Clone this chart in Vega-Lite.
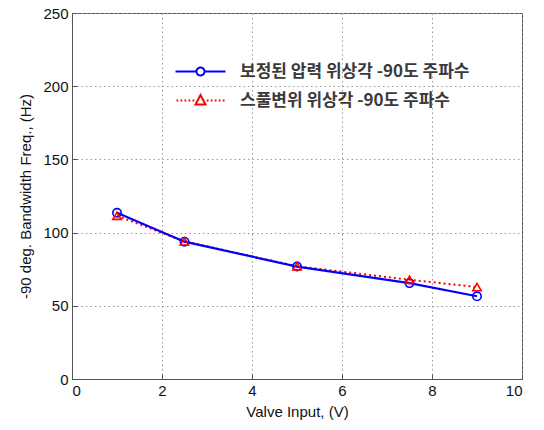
{
  "$schema": "https://vega.github.io/schema/vega-lite/v6.json",
  "width": 450,
  "height": 366,
  "autosize": {"type": "none"},
  "padding": {"left": 72, "top": 13, "right": 22, "bottom": 51},
  "background": "white",
  "config": {
    "view": {"stroke": "#555", "strokeWidth": 1},
    "axis": {
      "labelFont": "Liberation Sans",
      "titleFont": "Liberation Sans",
      "labelFontSize": 15,
      "titleFontSize": 15,
      "labelColor": "#111",
      "titleColor": "#111",
      "titleFontWeight": "normal",
      "domainColor": "#555",
      "tickColor": "#555",
      "tickSize": -5,
      "labelPadding": 9,
      "gridColor": "#999",
      "gridDash": [1.5, 3],
      "gridWidth": 1
    }
  },
  "data": {
    "values": [
      {"series": "보정된 압력 위상각 -90도 주파수", "x": 1, "y": 113.5},
      {"series": "보정된 압력 위상각 -90도 주파수", "x": 2.5, "y": 93.8},
      {"series": "보정된 압력 위상각 -90도 주파수", "x": 5, "y": 76.8},
      {"series": "보정된 압력 위상각 -90도 주파수", "x": 7.5, "y": 65.5},
      {"series": "보정된 압력 위상각 -90도 주파수", "x": 9, "y": 56.5},
      {"series": "스풀변위 위상각 -90도 주파수", "x": 1, "y": 111.5},
      {"series": "스풀변위 위상각 -90도 주파수", "x": 2.5, "y": 94},
      {"series": "스풀변위 위상각 -90도 주파수", "x": 5, "y": 77},
      {"series": "스풀변위 위상각 -90도 주파수", "x": 7.5, "y": 67.8},
      {"series": "스풀변위 위상각 -90도 주파수", "x": 9, "y": 62.8}
    ]
  },
  "encoding": {
    "x": {
      "field": "x", "type": "quantitative",
      "scale": {"domain": [0, 10], "nice": false},
      "axis": {"title": "Valve Input, (V)", "values": [0, 2, 4, 6, 8, 10], "titlePadding": 6}
    },
    "y": {
      "field": "y", "type": "quantitative",
      "scale": {"domain": [0, 250], "nice": false},
      "axis": {"title": "-90 deg. Bandwidth Freq., (Hz)", "values": [0, 50, 100, 150, 200, 250], "titlePadding": 9}
    },
    "color": {
      "field": "series", "type": "nominal",
      "scale": {"range": ["#0000ff", "#ff0000"]},
      "legend": {
        "title": null,
        "orient": "none",
        "legendX": 120,
        "legendY": 50,
        "padding": 0,
        "symbolSize": 100,
        "symbolStrokeWidth": 2,
        "labelOffset": 31,
        "rowPadding": 11,
        "labelFont": "Noto Sans CJK KR",
        "labelFontSize": 17,
        "labelFontWeight": "bold",
        "labelColor": "#3a3a3a",
        "labelLimit": 400,
        "encode": {
          "symbols": {
            "update": {
              "shape": {"signal": "datum.value === '보정된 압력 위상각 -90도 주파수' ? 'M-5,0H-0.8M0.8,0H5M0.8,0A0.8,0.8 0 1 1 -0.8,0A0.8,0.8 0 1 1 0.8,0' : 'M-4.8,0h0.35M-4,0h0.35M-3.2,0h0.35M-2.4,0h0.35M-1.6,0h0.35M1.25,0h0.35M2.05,0h0.35M2.85,0h0.35M3.65,0h0.35M4.45,0h0.35M0,-1.1L1,0.8L-1,0.8Z'"},
              "fill": {"value": "transparent"},
              "strokeDash": {"value": [1, 0]},
              "opacity": {"value": 1}
            }
          }
        }
      }
    }
  },
  "layer": [
    {
      "transform": [{"filter": "datum.series === '스풀변위 위상각 -90도 주파수'"}],
      "mark": {"type": "line", "strokeWidth": 2, "strokeDash": [2, 3]}
    },
    {
      "transform": [{"filter": "datum.series === '보정된 압력 위상각 -90도 주파수'"}],
      "mark": {"type": "line", "strokeWidth": 2.2}
    },
    {
      "mark": {"type": "point", "filled": false, "size": 70, "strokeWidth": 1.6, "opacity": 1},
      "encoding": {
        "shape": {
          "field": "series", "type": "nominal",
          "scale": {"range": ["circle", "triangle-up"]},
          "legend": null
        }
      }
    }
  ]
}
